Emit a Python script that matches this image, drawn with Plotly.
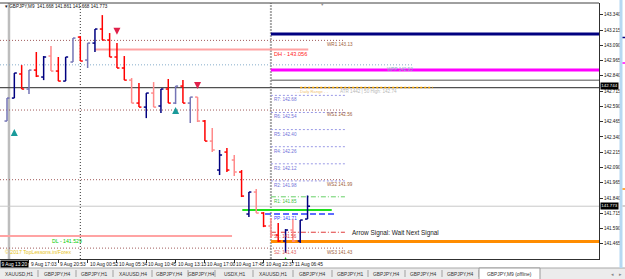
import plotly.graph_objects as go

# ---------------- data ----------------
SYMBOL = "GBPJPY,M9"
LAST_OHLC = [141.668, 141.861, 141.668, 141.773]

opens = [142.470, 142.658, 142.855, 142.732, 142.887, 142.830, 143.002, 142.879, 142.797, 142.953,
         143.157, 142.969, 143.108, 143.223, 143.133, 142.994, 142.904, 142.805, 142.617, 142.584,
         142.699, 142.593, 142.732, 142.617, 142.756, 142.617, 142.666, 142.470, 142.306, 142.069,
         142.216, 142.151, 142.053, 141.709, 141.889, 141.717, 141.611, 141.537, 141.488, 141.578,
         141.488, 141.668]
highs = [142.658, 142.863, 142.928, 142.887, 143.035, 143.002, 143.084, 142.994, 142.994, 143.149,
         143.165, 143.108, 143.223, 143.337, 143.190, 143.108, 143.002, 142.822, 142.781, 142.699,
         142.789, 142.732, 142.814, 142.756, 142.805, 142.666, 142.666, 142.478, 142.413, 142.233,
         142.249, 142.192, 142.069, 141.889, 141.913, 141.725, 141.676, 141.635, 141.586, 141.668,
         141.660, 141.861]
lows = [142.470, 142.658, 142.732, 142.691, 142.830, 142.805, 142.879, 142.797, 142.797, 142.953,
        142.961, 142.904, 143.035, 143.133, 142.994, 142.904, 142.805, 142.617, 142.584, 142.494,
        142.584, 142.535, 142.617, 142.609, 142.617, 142.454, 142.462, 142.306, 142.216, 142.028,
        142.053, 142.020, 141.848, 141.684, 141.717, 141.602, 141.513, 141.480, 141.390, 141.480,
        141.472, 141.668]
closes = [142.658, 142.863, 142.732, 142.887, 142.838, 142.994, 142.879, 142.797, 142.994, 143.149,
          142.961, 143.108, 143.223, 143.133, 142.994, 142.904, 142.805, 142.617, 142.584, 142.699,
          142.584, 142.732, 142.617, 142.756, 142.617, 142.666, 142.470, 142.306, 142.233, 142.192,
          142.069, 142.053, 141.856, 141.889, 141.717, 141.611, 141.537, 141.488, 141.578, 141.488,
          141.660, 141.773]
faded = [1, 0, 0, 1, 0, 0, 1, 0, 0, 1,
         0, 1, 0, 0, 0, 0, 0, 1, 0, 0,
         1, 0, 0, 1, 0, 1, 1, 0, 1, 0,
         0, 1, 0, 0, 1, 0, 1, 0, 0, 1,
         0, 0]

time_labels = ["9 Aug 17:03", "9 Aug 20:53", "10 Aug 00:52", "10 Aug 05:34", "10 Aug 10:45",
               "10 Aug 13:13", "10 Aug 17:00", "10 Aug 17:45", "10 Aug 22:37", "11 Aug 06:45"]
time_label_bars = [3, 7, 11, 15, 19, 23, 27, 31, 35, 39]
first_time_label = "9 Aug 13:20"

price_ticks = [143.340, 143.215, 143.090, 142.965, 142.840, 142.715, 142.590, 142.465, 142.340,
               142.215, 142.090, 141.965, 141.840, 141.715, 141.590, 141.465, 141.340]

weekly_names = ["WR1", "WS1", "WS2", "WS3"]
weekly_values = [143.13, 142.56, 141.99, 141.43]
weekly_pp_name = "WPP"
weekly_pp = 142.93

ext_names = ["R7", "R6", "R5", "R4", "R3", "R2"]
ext_values = [142.68, 142.54, 142.40, 142.26, 142.12, 141.98]

daily_names = ["R1", "PP", "S1", "S2"]
daily_values = [141.85, 141.71, 141.56, 141.43]

day_high = 143.056
day_low = 141.529
zone_navy = 143.182
zone_magenta = 142.887
zone_gray = 142.803
zone_orange = 141.484
zone_green = 141.742
line_dark = 142.744
bid = 141.773
range_level = 142.745

up_teal_bars = [1, 23]
up_teal_prices = [142.405, 142.585]
up_green_bars = [38]
up_green_prices = [141.357]
down_bars = [15, 26]
down_prices = [143.176, 142.732]

signal_text = "Arrow Signal: Wait Next Signal"
copyright_text = "\u00a9 2017 TopLessons.in/Forex"
info_text = "ATR 1442 | 50 High: 142.74"

tabs = ["XAUUSD,H1", "GBPJPY,H4", "GBPJPY,H1", "XAUUSD,H4", "GBPJPY,H4", "GBPJPY,H4", "USDX,H1",
        "XAUUSD,H1", "GBPJPY,H4", "GBPJPY,H1", "GBPJPY,H4", "GBPJPY,H4", "GBPJPY,H4",
        "GBPJPY,M9 (offline)"]

# ---------------- layout geometry ----------------
W, H = 625, 279
ML, MR, MT, MB = 0, 26, 3, 20
PW = W - ML - MR
PH = H - MT - MB
X_MIN, X_MAX = -0.955, 80.76
Y_MIN, Y_MAX = 141.341, 143.436
FONT = "Liberation Sans, Arial, sans-serif"


def px(X):
    return (X - ML) / PW


def py(Y):
    return (H - MB - Y) / PH


fig = go.Figure()

# ---------------- bars ----------------
TICK = 0.34
n = len(opens)


def bar_path(sel):
    xs, ys = [], []
    for i in sel:
        xs += [i, i, None, i - TICK, i, None, i, i + TICK, None]
        ys += [highs[i], lows[i], None, opens[i], opens[i], None, closes[i], closes[i], None]
    return xs, ys


groups = [(True, 1, "#7474b6"), (True, 0, "#000080"), (False, 1, "#ff8a8a"), (False, 0, "#ff0000")]

shapes = []
annotations = []


def hline(y, x0, x1, color, width=1.0, dash="solid", layer="below"):
    shapes.append(dict(type="line", xref="x", yref="y", x0=x0, x1=x1, y0=y, y1=y, layer=layer,
                       line=dict(color=color, width=width, dash=dash)))


def vline(x, color, width=1.0, dash="solid"):
    shapes.append(dict(type="line", xref="x", yref="paper", x0=x, x1=x, y0=0, y1=1, layer="below",
                       line=dict(color=color, width=width, dash=dash)))


def label(x, y, text, color, size=4.6, xanchor="left", yanchor="top", xref="x", yref="y", **kw):
    annotations.append(dict(x=x, y=y, xref=xref, yref=yref, text=text, showarrow=False,
                            xanchor=xanchor, yanchor=yanchor,
                            font=dict(family=FONT, size=size, color=color), **kw))


DOT = "1px,2px"

# verticals
vline(0.27, "#bdbdbd", 2.5)
vline(10, "#333333", 1, DOT)
vline(36, "#a8a8a8", 2, "2px,1px")

# weekly levels
for nm, v in zip(weekly_names, weekly_values):
    hline(v, X_MIN, 46.1, "#a05a5a", 1, DOT)
    label(43.4, v, f"{nm} {v:.2f}", "#a0603a")
hline(weekly_pp, X_MIN, 55.3, "#86aecb", 1, DOT)
label(51.6, weekly_pp, f"{weekly_pp_name} {weekly_pp:.2f}", "#88bdbd")

# thick zones
hline(zone_navy, 36, X_MAX, "#000080", 3)
hline(zone_magenta, 36, X_MAX, "#ff00ff", 3)
hline(zone_gray, 36, X_MAX, "#8a8a8a", 1.5)
hline(zone_orange, 36, X_MAX, "#ff8c00", 3)

# full-width lines
hline(line_dark, X_MIN, X_MAX, "#505050", 1.2)
hline(bid, X_MIN, X_MAX, "#c8c8c8", 1)
hline(range_level, 40, 58.1, "#ffaa00", 1.5, "2px,2px")
label(45.2, range_level, info_text, "#b8b8b8", 4.6)
label(39.0, range_level, "- - Daily Range - -", "#f0c070", 4.2)

# day high / low
hline(day_high, 12, 41.1, "#ffa3a3", 2)
label(36.1, day_high, f"DH - {day_high:.3f}", "#ff2020", 5.6)
hline(day_low, X_MIN, 30.7, "#ffa3a3", 2)
label(5.9, day_low, f"DL - {day_low:.3f}", "#00cc00", 5.2)

# pivot extensions
for nm, v in zip(ext_names, ext_values):
    hline(v, 36, 46.1, "#9a9ae6", 1, "2px,2px")
    label(36.1, v, f"{nm}: {v:.2f}", "#7070d8")

# daily pivots
daily_styles = [("#66d066", "5px,2px,1px,2px", 1, "#40c040"),
                ("#2a3cff", "6px,3px", 1.5, "#2a3cff"),
                ("#e03a3a", "5px,2px,1px,2px", 1, "#e04040"),
                (None, None, None, "#e06060")]
for (nm, v), (lc, ld, lw, tc) in zip(zip(daily_names, daily_values), daily_styles):
    if lc is not None:
        x0 = 35.2 if nm == "PP" else 36
        x1 = 45.0 if nm == "PP" else 46.1
        hline(v, x0, x1, lc, lw, ld)
    label(36.1, v, f"{nm}: {v:.2f}", tc)

hline(zone_green, 32.1, 44.3, "#1ee01e", 2)

# texts
label(46.8, 141.554, signal_text, "#202020", 6.4, yanchor="middle")
label(px(3), 141.398, copyright_text, "#e6c21a", 5.2, xref="paper", yanchor="middle")
label(px(3), py(6.5), f"\u25be {SYMBOL}  " + " ".join(f"{v:.3f}" for v in LAST_OHLC), "#111111", 4.6,
      xref="paper", yref="paper", yanchor="middle")
label(px(322), py(3.5), "\u25be", "#909090", 5, xref="paper", yref="paper", xanchor="center",
      yanchor="middle")

# current price boxes on axis
for v, ys in [(line_dark, 1.5), (bid, 0)]:
    annotations.append(dict(x=1, y=v, xref="paper", yref="y", text=f"{v:.3f}", showarrow=False,
                            xanchor="left", yanchor="middle", xshift=1, yshift=ys, bgcolor="#000000",
                            borderpad=0.3, font=dict(family=FONT, size=4.4, color="#ffffff")))

# time labels
for b, t in zip(time_label_bars, time_labels):
    label(b, py(264), t, "#111111", 4.8, yref="paper", yanchor="middle")
annotations.append(dict(x=0, y=py(264), xref="paper", yref="paper", text=first_time_label,
                        showarrow=False, xanchor="left", yanchor="middle", bgcolor="#000000",
                        borderpad=0.5, font=dict(family=FONT, size=4.8, color="#ffffff")))

# bottom tab strip
tab_edges = [0, 38, 76, 113, 152, 188, 215, 253, 293, 332, 368, 405, 442, 479, 540]
shapes.append(dict(type="rect", xref="paper", yref="paper", x0=px(0), x1=px(W), y0=py(268), y1=py(H + 1),
                   fillcolor="#ececec", line=dict(width=0), layer="above"))
shapes.append(dict(type="line", xref="paper", yref="paper", x0=px(0), x1=px(W), y0=py(268), y1=py(268),
                   line=dict(color="#a8a8a8", width=1), layer="above"))
for k, name in enumerate(tabs):
    a, b = tab_edges[k], tab_edges[k + 1]
    active = k == len(tabs) - 1
    if active:
        shapes.append(dict(type="rect", xref="paper", yref="paper", x0=px(a), x1=px(b), y0=py(268),
                           y1=py(H + 1), fillcolor="#ffffff", line=dict(color="#9a9a9a", width=1),
                           layer="above"))
    else:
        shapes.append(dict(type="line", xref="paper", yref="paper", x0=px(b), x1=px(b), y0=py(270),
                           y1=py(277), line=dict(color="#a0a0a0", width=1), layer="above"))
    label(px((a + b) / 2), py(274), name, "#333333", 4.9, xref="paper", yref="paper",
          xanchor="center", yanchor="middle")
label(px(612), py(274), "\u25c2", "#888888", 5, xref="paper", yref="paper", xanchor="center",
      yanchor="middle")
label(px(620), py(274), "\u25b8", "#888888", 5, xref="paper", yref="paper", xanchor="center",
      yanchor="middle")

# right strip (neighbouring window)
shapes.append(dict(type="rect", xref="paper", yref="paper", x0=px(619.5), x1=px(622.5), y0=py(268),
                   y1=py(0), fillcolor="#b6d8f2", line=dict(width=0), layer="above"))
for yy, cc in [(37.5, "#000080"), (63, "#ff00ff"), (189, "#ff8c00"), (206, "#c0c0c0")]:
    shapes.append(dict(type="line", xref="paper", yref="paper", x0=px(622.5), x1=px(625), y0=py(yy),
                       y1=py(yy), line=dict(color=cc, width=1.5), layer="above"))

# frame
shapes.append(dict(type="line", xref="paper", yref="paper", x0=0, x1=1, y0=1, y1=1,
                   line=dict(color="#404040", width=1), layer="above"))

# bar traces
for bull, fd, color in groups:
    sel = [i for i in range(n) if ((closes[i] >= opens[i]) == bull) and faded[i] == fd]
    xs, ys = bar_path(sel)
    fig.add_trace(go.Scatter(x=xs, y=ys, mode="lines", line=dict(color=color, width=1.5),
                             hoverinfo="skip", showlegend=False))

# arrows
fig.add_trace(go.Scatter(x=up_teal_bars, y=up_teal_prices, mode="markers",
                         marker=dict(symbol="arrow-up", size=7, color="#1a9a9a"), showlegend=False,
                         hoverinfo="skip"))
fig.add_trace(go.Scatter(x=up_green_bars, y=up_green_prices, mode="markers",
                         marker=dict(symbol="arrow-up", size=7, color="#22c022"), showlegend=False,
                         hoverinfo="skip"))
fig.add_trace(go.Scatter(x=down_bars, y=down_prices, mode="markers",
                         marker=dict(symbol="arrow-down", size=7, color="#e0204a"), showlegend=False,
                         hoverinfo="skip"))

fig.update_layout(
    width=W, height=H,
    margin=dict(l=ML, r=MR, t=MT, b=MB, pad=0),
    paper_bgcolor="#ffffff", plot_bgcolor="#ffffff",
    showlegend=False, hovermode=False,
    shapes=shapes, annotations=annotations,
    xaxis=dict(range=[X_MIN, X_MAX], showgrid=False, zeroline=False, showline=True,
               linecolor="#303030", linewidth=1, tickmode="array", tickvals=time_label_bars,
               ticks="outside", ticklen=3, tickcolor="#303030", showticklabels=False),
    yaxis=dict(range=[Y_MIN, Y_MAX], side="right", showgrid=False, zeroline=False, showline=True,
               linecolor="#303030", linewidth=1, tickmode="array", tickvals=price_ticks,
               tickformat=".3f", ticks="outside", ticklen=3, tickcolor="#303030",
               tickfont=dict(family=FONT, size=4.6, color="#111111")),
)

fig.write_html("out.html")
